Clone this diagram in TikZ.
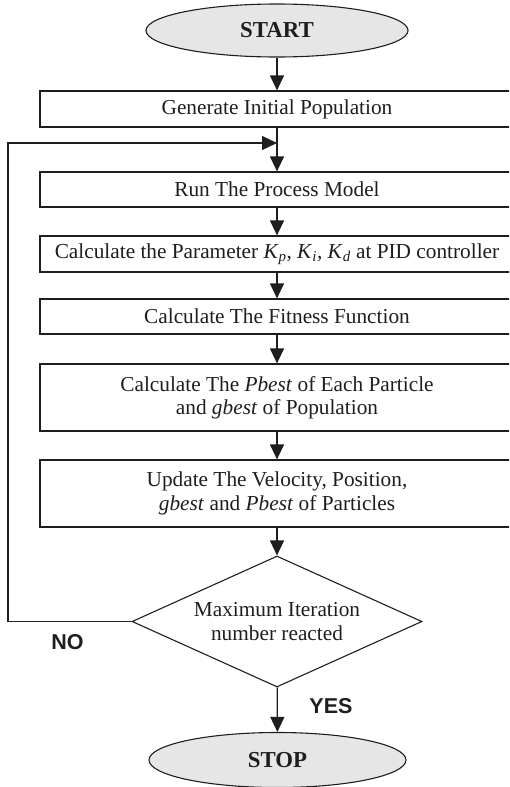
\documentclass[tikz,border=0pt]{standalone}
\usepackage{fontspec}
\setmainfont{Liberation Serif}
\newfontfamily\labelfont{Liberation Sans}
\usetikzlibrary{shapes.geometric,arrows.meta}
\definecolor{inkc}{HTML}{1E1E1E}
\definecolor{termfill}{HTML}{E6E6E6}
\tikzset{
  every node/.style={text=inkc},
  procbox/.style={draw=inkc, line width=1.2pt, rectangle, minimum width=474pt,
    inner sep=0pt, align=center, font=\fontsize{21.3}{23.3}\selectfont, fill=white},
  termnode/.style={draw=inkc, line width=1.1pt, ellipse, fill=termfill, inner sep=0pt,
    font=\fontsize{22.8}{26}\selectfont\bfseries},
  decnode/.style={draw=inkc, line width=1.1pt, diamond, aspect=2.2, inner sep=0pt,
    minimum width=290pt, minimum height=131pt, align=center,
    font=\fontsize{21.3}{23.3}\selectfont},
  flow/.style={draw=inkc, line width=1.2pt, -{Triangle[length=15pt,width=14pt]}},
  answer/.style={font=\labelfont\fontsize{21.5}{24}\selectfont\bfseries}
}
\newcommand{\gainK}[1]{\textit{K}\textsubscript{\textit{#1}}}
\begin{document}
\begin{tikzpicture}[x=1pt,y=-1pt]
  \useasboundingbox (0,0) rectangle (509,787);
  \clip (0,0) rectangle (509,787);

  % terminals
  \node[termnode, minimum width=262pt, minimum height=53pt] (start) at (277,30.5) {START};
  \node[termnode, minimum width=257pt, minimum height=55pt] (stop) at (277.5,760) {STOP};

  % process steps
  \node[procbox, minimum height=36pt] (gen) at (277,109) {Generate Initial Population};
  \node[procbox, minimum height=35pt] (run) at (277,189.5) {Run The Process Model};
  \node[procbox, minimum height=36pt] (param) at (277,254)
    {Calculate the Parameter \gainK{p}, \gainK{i}, \gainK{d} at PID controller};
  \node[procbox, minimum height=35pt] (fit) at (277,316.5) {Calculate The Fitness Function};
  \node[procbox, minimum height=67pt] (pb) at (277,397.5)
    {Calculate The \textit{Pbest} of Each Particle\\and \textit{gbest} of Population};
  \node[procbox, minimum height=67pt] (upd) at (277,493.5)
    {Update The Velocity, Position,\\\textit{gbest} and \textit{Pbest} of Particles};

  % decision
  \node[decnode] (dec) at (277,621.5) {Maximum Iteration\\number reacted};

  % loop-back junction
  \coordinate (join) at (277,143);
  \coordinate (corner) at (8,143);

  % main flow
  \draw[flow] (start) -- (gen);
  \draw[flow] (gen) -- (run);
  \draw[flow] (run) -- (param);
  \draw[flow] (param) -- (fit);
  \draw[flow] (fit) -- (pb);
  \draw[flow] (pb) -- (upd);
  \draw[flow] (upd) -- (dec);
  \draw[flow] (dec) -- (stop);

  % NO branch back to the top of the loop
  \draw[flow] (dec.west) -| (corner) -- (join);

  % branch labels
  \node[answer] (nolab) at (67.5,642) {NO};
  \node[answer] (yeslab) at (331,706) {YES};
\end{tikzpicture}
\end{document}
